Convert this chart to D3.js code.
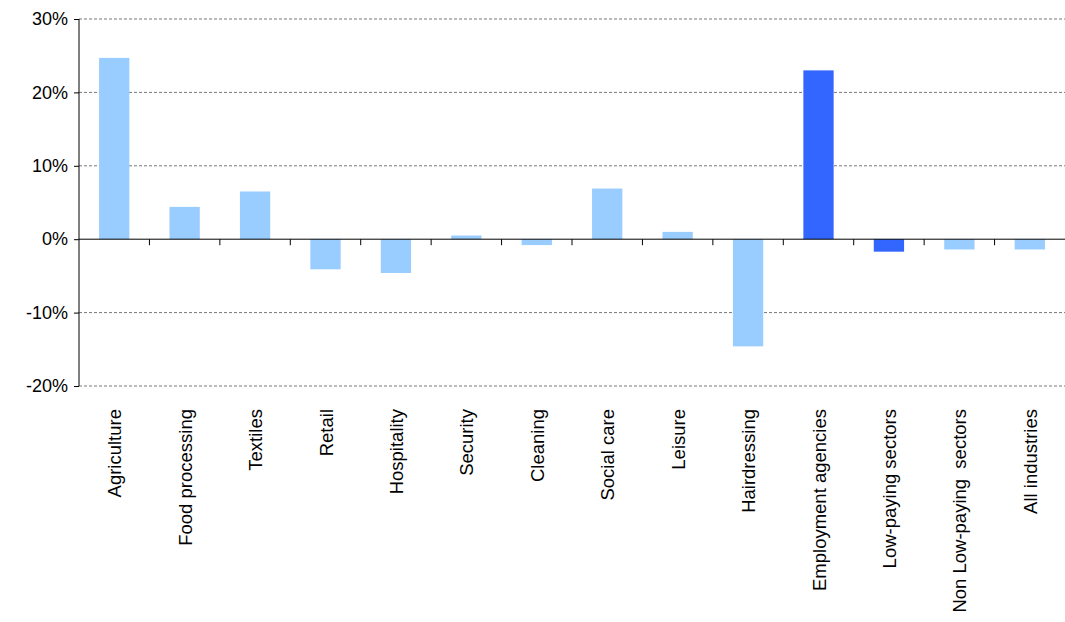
<!DOCTYPE html>
<html><head><meta charset="utf-8">
<script src="https://cdn.jsdelivr.net/npm/d3@7"></script>
<style>body{margin:0;background:#fff;font-family:"Liberation Sans",Arial,sans-serif;}</style>
</head><body><svg id="c" width="1065" height="622"></svg>
<script>
const categories=["Agriculture","Food processing","Textiles","Retail","Hospitality","Security","Cleaning","Social care","Leisure","Hairdressing","Employment agencies","Low-paying sectors","Non Low-paying  sectors","All industries"];
const values=[24.7,4.4,6.5,-4.1,-4.6,0.5,-0.8,6.9,1.0,-14.6,23.0,-1.7,-1.4,-1.4];
const highlight=["Employment agencies","Low-paying sectors"];
const yTicks=[30,20,10,0,-10,-20];
const svg=d3.select("#c");
const x=d3.scaleBand().domain(categories).range([79,1065]).paddingInner(0.57).paddingOuter(0.285);
const y=d3.scaleLinear().domain([-20,30]).range([386,19]);
const xb=d3.scaleBand().domain(categories).range([79,1065]);
svg.append("g").selectAll("line").data(yTicks.filter(d=>d!==0)).join("line")
 .attr("x1",79).attr("x2",1065).attr("y1",d=>y(d)).attr("y2",d=>y(d))
 .attr("stroke","#777").attr("stroke-dasharray","3,2").attr("stroke-width",1);
svg.append("g").selectAll("rect").data(values).join("rect")
 .attr("x",(d,i)=>x(categories[i])).attr("width",x.bandwidth())
 .attr("y",d=>y(Math.max(0,d))).attr("height",d=>Math.abs(y(d)-y(0)))
 .attr("fill",(d,i)=>highlight.includes(categories[i])?"#3366FF":"#99CCFF");
const ya=svg.append("g").attr("transform","translate(79,0)")
 .call(d3.axisLeft(y).tickValues(yTicks).tickSize(5).tickFormat(d=>d+"%"));
ya.selectAll("text").attr("font-size",18).attr("fill","#000").attr("font-family","Liberation Sans, Arial").attr("dx",-3);
ya.select(".domain").attr("stroke","#000").attr("d","M0,19V386");
ya.selectAll(".tick line").attr("stroke","#000");
const g0=svg.append("g");
g0.append("line").attr("x1",79).attr("x2",1065).attr("y1",y(0)).attr("y2",y(0)).attr("stroke","#000");
g0.selectAll("line.t").data(categories.slice(1)).join("line").attr("class","t")
 .attr("x1",d=>xb(d)).attr("x2",d=>xb(d)).attr("y1",y(0)).attr("y2",y(0)+6).attr("stroke","#000");
svg.append("g").selectAll("text").data(categories).join("text")
 .attr("transform",d=>`translate(${x(d)+x.bandwidth()/2+7},409) rotate(-90)`)
 .attr("text-anchor","end").attr("font-size",18.5).style("white-space","pre").text(d=>d);
</script></body></html>
